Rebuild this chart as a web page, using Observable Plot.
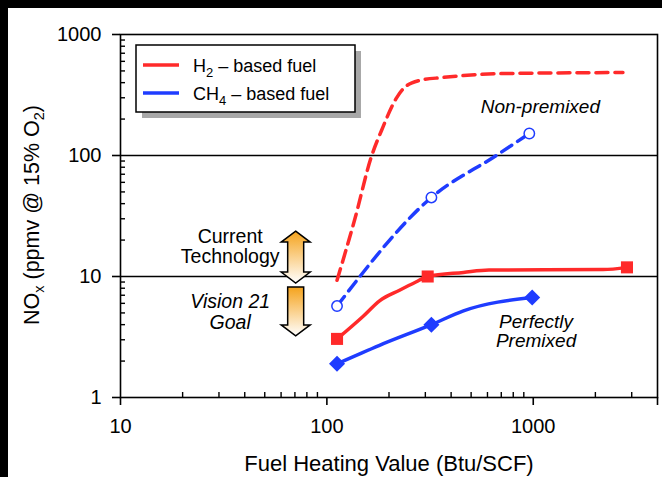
<!DOCTYPE html>
<html><head><meta charset="utf-8">
<script src="https://cdn.jsdelivr.net/npm/d3@7"></script>
<script src="https://cdn.jsdelivr.net/npm/@observablehq/plot@0.6"></script>
<style>
html,body{margin:0;padding:0;background:#000;width:662px;height:477px;overflow:hidden;}
#wrap{position:absolute;left:8px;top:8px;width:654px;height:469px;background:#fff;}
svg{display:block;}
</style></head><body><div id="wrap"></div>
<script>
// ---- data ----
// H2 perfectly premixed (markers + read curve points)
const h2PreMarkX = [112, 308, 2845];
const h2PreMarkY = [3.05, 10, 11.9];
const h2PreLineX = [112, 150, 180, 225, 270, 308, 459, 610, 2180, 2845];
const h2PreLineY = [3.05, 4.7, 6.3, 7.7, 9.0, 10, 10.8, 11.3, 11.4, 11.9];

// H2 non-premixed (dashed)
const h2NonLineX = [112, 136, 165, 184, 218, 238, 281, 363, 459, 733, 2720];
const h2NonLineY = [9.3, 29, 100, 161, 301, 365, 417, 441, 458, 476, 485];

// CH4 non-premixed (dashed, open circles)
const ch4NonMarkX = [112, 321, 957];
const ch4NonMarkY = [5.7, 45, 152];
const ch4NonLineX = [112, 321, 662, 957];
const ch4NonLineY = [5.7, 45, 100, 152];

// CH4 perfectly premixed (diamonds)
const ch4PreMarkX = [112, 321, 988];
const ch4PreMarkY = [1.9, 4.0, 6.7];
const ch4PreLineX = [112, 180, 321, 459, 988];
const ch4PreLineY = [1.9, 2.7, 4.0, 5.2, 6.7];

const majorXTicks = [10, 100, 1000, 4000];
const minorXTicks = [20,30,40,50,60,70,80,90,200,300,400,500,600,700,800,900,2000,3000];
const majorYTicks = [1, 10, 100, 1000];
const minorYTicks = [2,3,4,5,6,7,8,9,20,30,40,50,60,70,80,90,200,300,400,500,600,700,800,900];
const gridY = [10, 100];

const RED = "#ff2a2a", BLUE = "#1f3cff";
const pts = (xs, ys) => xs.map((x, i) => ({x, y: ys[i]}));

const W = 654, H = 469, ML = 112, MR = 5, MT = 26, MB = 80;
const PW = W - ML - MR, PH = H - MT - MB;

const diamond = {draw(ctx, size) { const h = Math.sqrt(size / 2); ctx.moveTo(0, -h); ctx.lineTo(h, 0); ctx.lineTo(0, h); ctx.lineTo(-h, 0); ctx.closePath(); }};

const chart = Plot.plot({
  width: W, height: H,
  marginLeft: ML, marginRight: MR, marginTop: MT, marginBottom: MB,
  style: {fontFamily: "'Liberation Sans', Arial, Helvetica, sans-serif", fontSize: "18px", background: "white", color: "#000", overflow: "visible"},
  x: {type: "log", domain: [10, 4000]},
  y: {type: "log", domain: [1, 1000]},
  marks: [
    Plot.ruleY(gridY, {stroke: "#000", strokeWidth: 1.6}),
    Plot.tickX(minorXTicks, {x: d => d, insetTop: PH - 5, stroke: "#000", strokeWidth: 1.4}),
    Plot.tickY(minorYTicks, {y: d => d, insetRight: PW - 5, stroke: "#000", strokeWidth: 1.4}),
    Plot.axisX({ticks: majorXTicks, tickSize: 8, tickPadding: 13, strokeWidth: 1.6, fontSize: 20,
      tickFormat: d => d === 4000 ? "" : String(d), label: null}),
    Plot.axisY({ticks: majorYTicks, tickSize: 8, tickPadding: 11, strokeWidth: 1.6, fontSize: 20,
      tickFormat: d => String(d), label: null}),
    Plot.frame({stroke: "#000", strokeWidth: 1.6}),
    Plot.line(pts(h2NonLineX, h2NonLineY), {x: "x", y: "y", stroke: RED, strokeWidth: 3.5, strokeDasharray: "12,7", curve: "monotone-x"}),
    Plot.line(pts(ch4NonLineX, ch4NonLineY), {x: "x", y: "y", stroke: BLUE, strokeWidth: 3.5, strokeDasharray: "12,7", curve: "monotone-x"}),
    Plot.line(pts(h2PreLineX, h2PreLineY), {x: "x", y: "y", stroke: RED, strokeWidth: 3.5, curve: "monotone-x"}),
    Plot.line(pts(ch4PreLineX, ch4PreLineY), {x: "x", y: "y", stroke: BLUE, strokeWidth: 3.5, curve: "monotone-x"}),
    Plot.dot(pts(h2PreMarkX, h2PreMarkY), {x: "x", y: "y", symbol: "square", r: 6.8, fill: RED}),
    Plot.dot(pts(ch4PreMarkX, ch4PreMarkY), {x: "x", y: "y", symbol: diamond, r: 6.4, fill: BLUE}),
    Plot.dot(pts(ch4NonMarkX, ch4NonMarkY), {x: "x", y: "y", symbol: "circle", r: 5.2, fill: "white", stroke: BLUE, strokeWidth: 1.5}),
    Plot.text(["Non-premixed"], {x: 1082, y: 254, text: d => d, fontStyle: "italic", fontSize: 19}),
    Plot.text(["Perfectly\nPremixed"], {x: 1032, y: 3.5, text: d => d, fontStyle: "italic", fontSize: 19, lineHeight: 1.0}),
    Plot.text(["Current\nTechnology"], {x: 34, y: 17.7, text: d => d, fontSize: 19.5, lineHeight: 1.05}),
    Plot.text(["Vision 21\nGoal"], {x: 34, y: 5.1, text: d => d, fontStyle: "italic", fontSize: 19.5, lineHeight: 1.05})
  ]
});
document.getElementById("wrap").appendChild(chart);

const svg = d3.select(chart);
const sx = chart.scale("x"), sy = chart.scale("y");

// gradient for arrows
const defs = svg.append("defs");
const g = defs.append("linearGradient").attr("id", "arrowGrad").attr("x1", 0).attr("y1", 0).attr("x2", 0).attr("y2", 1);
g.append("stop").attr("offset", "0%").attr("stop-color", "#f5a31c");
g.append("stop").attr("offset", "100%").attr("stop-color", "#ffffff");

// arrows (positioned through the scales)
const ax = sx.apply(71);
const hw = 14.5, sw = 8, hl = 11;
{
  const t = sy.apply(23.5), b = sy.apply(8.75);
  const p = [[ax, t], [ax + hw, t + hl], [ax + sw, t + hl], [ax + sw, b - hl], [ax + hw, b - hl], [ax, b], [ax - hw, b - hl], [ax - sw, b - hl], [ax - sw, t + hl], [ax - hw, t + hl]];
  svg.append("path").attr("d", "M" + p.join("L") + "Z").attr("fill", "url(#arrowGrad)").attr("stroke", "#000").attr("stroke-width", 1.5);
}
{
  const t = sy.apply(8.1), b = sy.apply(3.2);
  const p = [[ax - sw, t], [ax + sw, t], [ax + sw, b - hl], [ax + hw, b - hl], [ax, b], [ax - hw, b - hl], [ax - sw, b - hl]];
  svg.append("path").attr("d", "M" + p.join("L") + "Z").attr("fill", "url(#arrowGrad)").attr("stroke", "#000").attr("stroke-width", 1.5);
}

// legend
const lg = svg.append("g").attr("font-family", "'Liberation Sans', Arial, sans-serif").attr("font-size", 18).attr("text-anchor", "start");
lg.append("rect").attr("x", 134).attr("y", 43).attr("width", 219).attr("height", 67).attr("fill", "#a8a8a8");
lg.append("rect").attr("x", 128).attr("y", 37).attr("width", 219).attr("height", 67).attr("fill", "white").attr("stroke", "#000").attr("stroke-width", 1.5);
const entries = [{c: RED, base: "H", sub: "2"}, {c: BLUE, base: "CH", sub: "4"}];
entries.forEach((e, i) => {
  const yy = 57 + i * 28;
  lg.append("line").attr("x1", 135).attr("x2", 171).attr("y1", yy).attr("y2", yy).attr("stroke", e.c).attr("stroke-width", 3.5);
  const t = lg.append("text").attr("x", 185).attr("y", yy + 7).attr("text-anchor", "start");
  t.append("tspan").text(e.base);
  t.append("tspan").attr("font-size", 13).attr("dy", 5).text(e.sub);
  t.append("tspan").attr("dy", -5).text(" \u2013 based fuel");
});

// axis titles
svg.append("text").attr("x", 381).attr("y", 463).attr("text-anchor", "middle")
  .attr("font-size", 22).text("Fuel Heating Value (Btu/SCF)");
const yt = svg.append("text").attr("transform", "translate(31,207) rotate(-90)").attr("text-anchor", "middle").attr("font-size", 21.5);
yt.append("tspan").text("NO");
yt.append("tspan").attr("font-size", 14.5).attr("dy", 5).text("x");
yt.append("tspan").attr("dy", -5).text(" (ppmv @ 15% O");
yt.append("tspan").attr("font-size", 14.5).attr("dy", 5).text("2");
yt.append("tspan").attr("dy", -5).text(")");
</script></body></html>
